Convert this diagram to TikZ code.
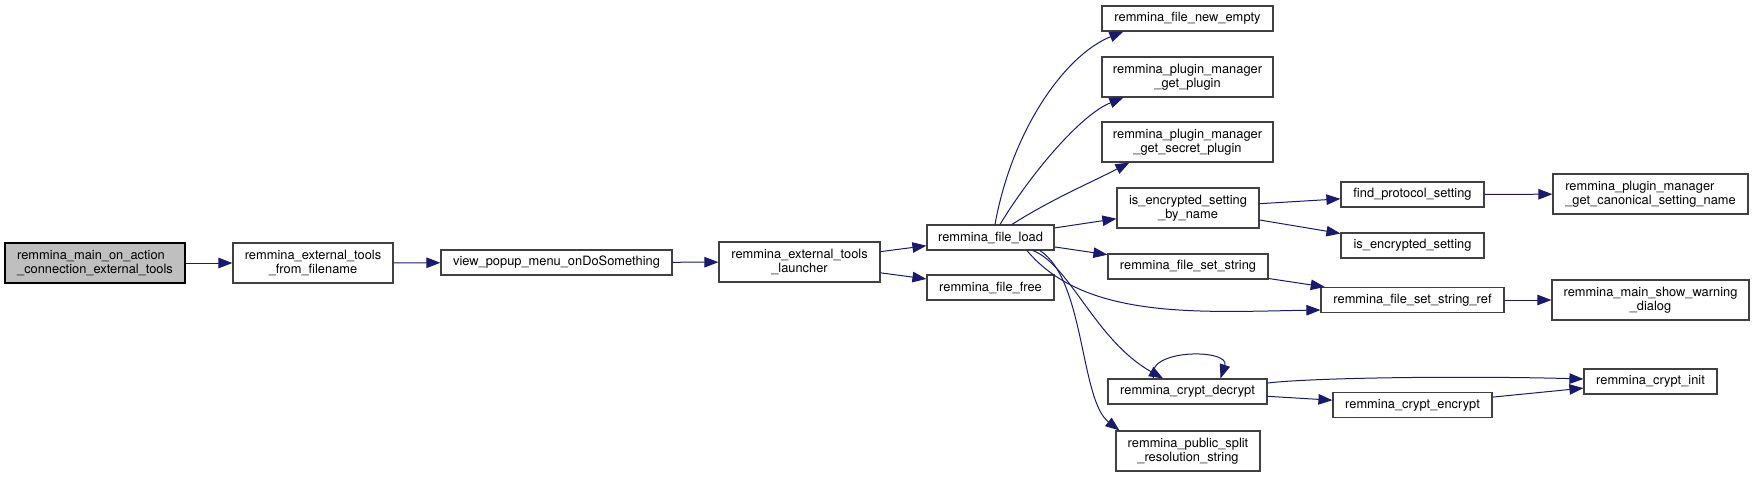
\documentclass[tikz,border=0pt]{standalone}
\usepackage{fontspec}
\setmainfont{TeX Gyre Heros}
\usepackage{tikz}
\usetikzlibrary{arrows.meta}
\definecolor{edgeblue}{HTML}{191970}
\definecolor{boxgrey}{HTML}{404040}
\definecolor{mainfill}{HTML}{BFBFBF}

\begin{document}
\begin{tikzpicture}[
    x=1pt, y=-1pt,
    box/.style={rectangle, draw=boxgrey, fill=white, line width=1.2pt, align=center, minimum height=25pt, inner sep=2pt, font=\fontsize{12.85}{14}\selectfont},
    tall/.style={minimum height=40pt},
    arrow/.style={-{Triangle[length=14pt,width=10.5pt]}, draw=edgeblue, line width=1pt}
]
    \useasboundingbox (0,0) rectangle (1755,477);

    \node[box, tall, fill=mainfill, draw=black, align=left, minimum width=180pt] (main) at (95,263) {remmina\_main\_on\_action\\\_connection\_external\_tools};
    \node[box, tall, minimum width=160pt] (fromname) at (313,263) {remmina\_external\_tools\\\_from\_filename};
    \node[box, minimum width=231pt] (popup) at (556.5,262.5) {view\_popup\_menu\_onDoSomething};
    \node[box, tall, minimum width=161pt] (launcher) at (799.5,262) {remmina\_external\_tools\\\_launcher};
    \node[box, minimum width=127pt] (load) at (990.5,237.5) {remmina\_file\_load};
    \node[box, minimum width=127pt] (free) at (990.5,287.5) {remmina\_file\_free};
    \node[box, minimum width=171pt] (newempty) at (1187.5,18.5) {remmina\_file\_new\_empty};
    \node[box, tall, minimum width=171pt] (plugin) at (1187.5,77) {remmina\_plugin\_manager\\\_get\_plugin};
    \node[box, tall, minimum width=171pt] (secret) at (1187.5,142) {remmina\_plugin\_manager\\\_get\_secret\_plugin};
    \node[box, tall, minimum width=142pt] (encname) at (1188,208) {is\_encrypted\_setting\\\_by\_name};
    \node[box, minimum width=160pt] (setstr) at (1188,266.5) {remmina\_file\_set\_string};
    \node[box, minimum width=159pt] (decrypt) at (1187.5,391.5) {remmina\_crypt\_decrypt};
    \node[box, tall, minimum width=144pt] (split) at (1188,451) {remmina\_public\_split\\\_resolution\_string};
    \node[box, minimum width=143pt] (protocol) at (1412.5,194.5) {find\_protocol\_setting};
    \node[box, minimum width=143pt] (encset) at (1412.5,245.5) {is\_encrypted\_setting};
    \node[box, minimum width=183pt] (strref) at (1412.5,300) {remmina\_file\_set\_string\_ref};
    \node[box, minimum width=159pt] (encrypt) at (1412.5,405) {remmina\_crypt\_encrypt};
    \node[box, tall, align=left, minimum width=195pt] (canonical) at (1650.5,194) {remmina\_plugin\_manager\\\_get\_canonical\_setting\_name};
    \node[box, tall, minimum width=197pt] (warning) at (1650.5,300) {remmina\_main\_show\_warning\\\_dialog};
    \node[box, minimum width=133pt] (init) at (1650.5,381.5) {remmina\_crypt\_init};

    \draw[arrow] (main) -- (fromname);
    \draw[arrow] (fromname) -- (popup);
    \draw[arrow] (popup) -- (launcher);
    \draw[arrow] (launcher) -- (load);
    \draw[arrow] (launcher) -- (free);
    \draw[arrow] ([xshift=4.5pt]load.north) .. controls (1012,130) and (1065,55) .. ([xshift=22pt]newempty.south west);
    \draw[arrow] ([xshift=9.5pt]load.north) .. controls (1030,175) and (1080,115) .. ([xshift=22pt]plugin.south west);
    \draw[arrow] ([xshift=21.5pt]load.north) .. controls (1052,199) and (1090,183) .. ([xshift=28pt]secret.south west);
    \draw[arrow] (load) -- (encname);
    \draw[arrow] (load) -- (setstr);
    \draw[arrow] ([xshift=36.5pt]load.south) .. controls (1085,320) and (1200,312) .. ([yshift=-10pt]strref.west);
    \draw[arrow] ([xshift=42.5pt]load.south) .. controls (1070,265) and (1095,340) .. ([xshift=-24.5pt]decrypt.north);
    \draw[arrow] ([xshift=49.5pt]load.south) .. controls (1085,280) and (1080,400) .. ([xshift=4pt]split.north west);
    \draw[arrow] ([xshift=-34pt]decrypt.north) .. controls +(-10,-30) and +(10,-30) .. ([xshift=33pt]decrypt.north);
    \draw[arrow] (encname) -- (protocol);
    \draw[arrow] (encname) -- (encset);
    \draw[arrow] (setstr) -- (strref);
    \draw[arrow] (protocol) -- (canonical);
    \draw[arrow] (strref) -- (warning);
    \draw[arrow] ([yshift=8.5pt]decrypt.east) .. controls (1320,377) and (1480,376) .. ([yshift=2.5pt]init.west);
    \draw[arrow] (decrypt) -- (encrypt);
    \draw[arrow] (encrypt) -- (init);
\end{tikzpicture}
\end{document}
